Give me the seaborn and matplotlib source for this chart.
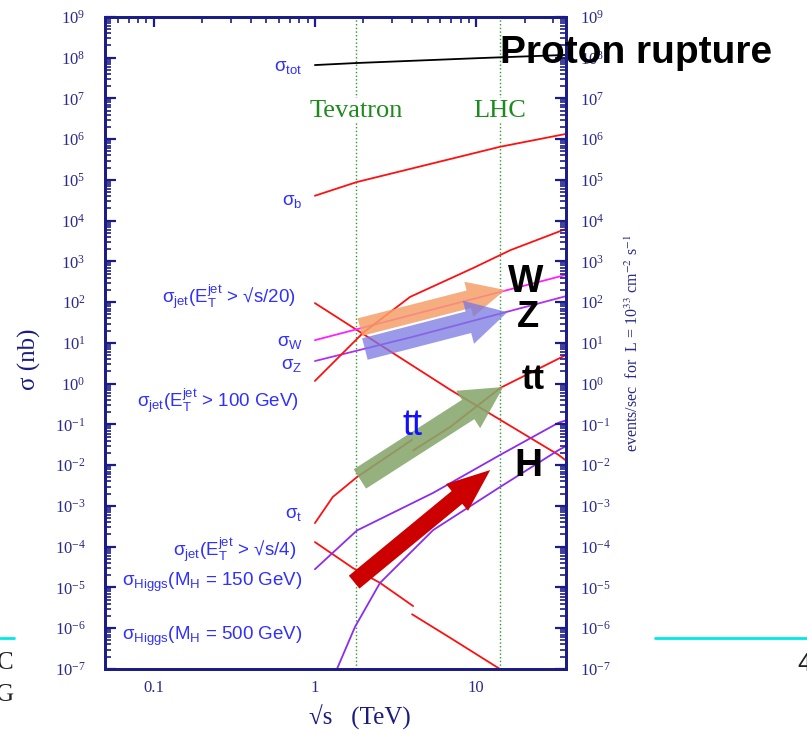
import numpy as np
import pandas as pd
import matplotlib
matplotlib.use("Agg")
import matplotlib.pyplot as plt
import seaborn as sns
from matplotlib.patches import FancyArrowPatch
from matplotlib.lines import Line2D
from matplotlib.ticker import LogLocator, NullFormatter, FixedLocator, FixedFormatter

sns.set_style("white")
plt.rcParams['font.family'] = ['Liberation Serif', 'DejaVu Serif']
plt.rcParams['axes.unicode_minus'] = False
plt.rcParams['mathtext.fontset'] = 'custom'
plt.rcParams['mathtext.rm'] = 'Liberation Sans'
plt.rcParams['mathtext.it'] = 'Liberation Sans:italic'
plt.rcParams['mathtext.bf'] = 'Liberation Sans:bold'

# sqrt(s) in TeV, sigma in nb
tot_x = [1, 1.8, 10.6, 36]
tot_y = [6.6e7, 7.4e7, 9.8e7, 1.17e8]
b_x = [1, 1.82, 14, 36]
b_y = [4.1e4, 8.9e4, 6.5e5, 1.35e6]
jet20_x = [1, 6.9, 32.3, 36]
jet20_y = [95, 0.71, 0.018, 0.013]
w_x = [1, 4, 36]
w_y = [11.7, 49, 470]
z_x = [1, 4, 36]
z_y = [3.6, 14, 141]
jet100_x = [1, 1.99, 3.89, 9.58, 16.3, 36]
jet100_y = [1.17, 17.8, 135, 692, 1900, 6300]
top_x = [1, 1.29, 1.82, 4.0]
top_y = [3.8e-4, 1.66e-3, 5.1e-3, 4.2e-2]
top2_x = [4.06, 6.9, 14.1, 32.3, 36]
top2_y = [0.023, 0.087, 0.79, 4.1, 5.1]
jet4_x = [1, 1.72, 2.53, 4.06]
jet4_y = [1.3e-4, 3.0e-5, 1.3e-5, 3.5e-6]
jet4b_x = [4.0, 6.9, 14]
jet4b_y = [2.2e-6, 5.8e-7, 1.0e-7]
h150_x = [1, 1.82, 5.41, 14.1, 32.3, 36]
h150_y = [2.8e-5, 2.5e-4, 2.1e-3, 1.8e-2, 0.11, 0.126]
h500_x = [1.37, 1.77, 2.53, 5.41, 14.1, 32.3, 36]
h500_y = [1e-7, 1.07e-6, 1.29e-5, 2.57e-4, 2.95e-3, 2.34e-2, 2.95e-2]

curves = [
    ("tot", tot_x, tot_y, "black"),
    ("b", b_x, b_y, "#ff1010"),
    ("jet20", jet20_x, jet20_y, "#ff1010"),
    ("W", w_x, w_y, "#ff20ff"),
    ("Z", z_x, z_y, "#b030f0"),
    ("jet100", jet100_x, jet100_y, "#ff1010"),
    ("top", top_x, top_y, "#ff1010"),
    ("top2", top2_x, top2_y, "#ff1010"),
    ("jet4", jet4_x, jet4_y, "#ff1010"),
    ("jet4b", jet4b_x, jet4b_y, "#ff1010"),
    ("h150", h150_x, h150_y, "#8c2cf0"),
    ("h500", h500_x, h500_y, "#8c2cf0"),
]
df = pd.concat([pd.DataFrame({"sqrt_s": x, "sigma": y, "curve": name})
                for name, x, y, c in curves], ignore_index=True)
palette = {name: c for name, x, y, c in curves}

navy = "#1c1c88"
fig = plt.figure(figsize=(8.07, 7.34), dpi=100)
ax = fig.add_axes([0.1301, 0.0886, 0.5713, 0.8883])

sns.lineplot(data=df, x="sqrt_s", y="sigma", hue="curve", palette=palette,
             estimator=None, sort=False, legend=False, linewidth=1.3, ax=ax)
ax.set_xscale("log")
ax.set_yscale("log")
ax.set_xlim(0.05, 36)
ax.set_ylim(1e-7, 1e9)

# Tevatron / LHC energies
for xv, name in [(1.8, "Tevatron"), (14, "LHC")]:
    ax.axvline(xv, color="#2a9a2a", ls=":", lw=1.0, zorder=1)
    ax.text(xv, 10**6.7, name, color="#1e8a1e", fontsize=19, ha="center", va="center",
            bbox=dict(facecolor="white", edgecolor="none", pad=1), zorder=2)

# curve labels: text, right edge (TeV), height (nb)
labels = [
    (r"σ$_{\mathrm{tot}}$", 0.84, 10**7.75),
    (r"σ$_{\mathrm{b}}$", 0.84, 10**4.46),
    (r"σ$_{\mathrm{jet}}$(E$_{\mathrm{T}}^{\mathrm{jet}}$ > √s/20)", 0.76, 10**2.13),
    (r"σ$_{\mathrm{W}}$", 0.84, 10**1.02),
    (r"σ$_{\mathrm{Z}}$", 0.84, 10**0.44),
    (r"σ$_{\mathrm{jet}}$(E$_{\mathrm{T}}^{\mathrm{jet}}$ > 100 GeV)", 0.80, 10**-0.42),
    (r"σ$_{\mathrm{t}}$", 0.84, 10**-3.2),
    (r"σ$_{\mathrm{jet}}$(E$_{\mathrm{T}}^{\mathrm{jet}}$ > √s/4)", 0.77, 10**-4.08),
    (r"σ$_{\mathrm{Higgs}}$(M$_{\mathrm{H}}$ = 150 GeV)", 0.84, 10**-4.87),
    (r"σ$_{\mathrm{Higgs}}$(M$_{\mathrm{H}}$ = 500 GeV)", 0.84, 10**-6.21),
]
for txt, xv, yv in labels:
    ax.text(xv, yv, txt, color="#3030ff", fontsize=13.5, ha="right", va="center",
            family=["Liberation Sans", "DejaVu Sans"])

# arrows: tail, tip, colour, alpha, tail width, head width, head length (pt)
arrows = [
    ((1.90, 24.5), (15.1, 200), "#f5a06a", 0.85, 13, 26, 27),
    ((2.04, 7.1), (15.6, 57), "#7878e2", 0.75, 16, 32, 29),
    ((1.90, 4.6e-3), (14.7, 0.83), "#86a66c", 0.88, 16.5, 32, 30),
    ((1.75, 1.35e-5), (12.2, 7.6e-3), "#cc0000", 1.0, 12, 25, 31),
]
for tail, tip, col, al, tw, hw, hl in arrows:
    ax.add_patch(FancyArrowPatch(
        tail, tip, arrowstyle=f"simple,head_length={hl},head_width={hw},tail_width={tw}",
        mutation_scale=1, color=col, alpha=al, lw=0, shrinkA=0, shrinkB=0, zorder=5))

bold = dict(family=["Liberation Sans", "DejaVu Sans"], fontweight="bold", color="black",
            ha="center", va="center", zorder=6)
ax.text(20.2, 10**2.50, "W", fontsize=27, **bold)
ax.text(21.0, 10**1.62, "Z", fontsize=26, **bold)
ax.text(22.6, 10**0.10, "tt", fontsize=25, **bold)
ax.text(21.0, 10**-2.02, "H", fontsize=28, **bold)
ax.text(4.04, 10**-1.03, "tt", fontsize=26, color="#1010ff", ha="center", va="center",
        family=["Liberation Sans", "DejaVu Sans"], zorder=6)

# axes styling
ax.xaxis.set_major_locator(FixedLocator([0.1, 1, 10]))
ax.xaxis.set_major_formatter(FixedFormatter(["0.1", "1", "10"]))
ax.xaxis.set_minor_locator(LogLocator(base=10, subs=np.arange(2, 10), numticks=20))
ax.xaxis.set_minor_formatter(NullFormatter())
ax.yaxis.set_major_locator(LogLocator(base=10, numticks=20))
ax.yaxis.set_minor_locator(LogLocator(base=10, subs=np.arange(2, 10), numticks=20))
ax.yaxis.set_minor_formatter(NullFormatter())

ax2 = ax.twinx()
ax2.set_yscale("log")
ax2.set_ylim(1e-7, 1e9)
ax2.yaxis.set_major_locator(LogLocator(base=10, numticks=20))
ax2.yaxis.set_minor_locator(LogLocator(base=10, subs=np.arange(2, 10), numticks=20))
ax2.yaxis.set_minor_formatter(NullFormatter())

ax.tick_params(axis="both", which="both", direction="in", color=navy, labelcolor="#2a2a8a",
               top=True, right=False, labelsize=12)
ax.tick_params(axis="y", which="major", length=8, width=1.6, pad=14)
ax.tick_params(axis="y", which="minor", length=4.5, width=1.2)
ax.tick_params(axis="x", which="major", length=7, width=1.6, pad=8)
ax.tick_params(axis="x", which="minor", length=4, width=1.2)
ax2.tick_params(axis="y", which="both", direction="in", color=navy, labelcolor="#2a2a8a",
                labelsize=12)
ax2.tick_params(axis="y", which="major", length=8, width=1.6, pad=10)
ax2.tick_params(axis="y", which="minor", length=4.5, width=1.2)
for a in (ax, ax2):
    for s in a.spines.values():
        s.set_color(navy)
        s.set_linewidth(2.0)

ax.set_xlabel("√s   (TeV)", fontsize=18, color="#1c1c80", va="center")
ax.xaxis.set_label_coords(0.553, -0.074)
ax.set_ylabel("σ (nb)", fontsize=18, color="#1c1c80", va="center")
ax.yaxis.set_label_coords(-0.163, 0.475)
ax2.set_ylabel(r"events/sec  for  L = 10$^{33}$ cm$^{-2}$ s$^{-1}$", fontsize=11.5,
               color="#2a2a8a", va="center", math_fontfamily="stix")
ax2.yaxis.set_label_coords(1.145, 0.5)

fig.text(500 / 807, 1 - 63 / 734, "Proton rupture", fontsize=28, fontweight="bold",
         color="black", family=["Liberation Sans", "DejaVu Sans"], ha="left",
         va="baseline", zorder=10)

# slide leftovers around the chart
fig.add_artist(Line2D([0, 14 / 807], [1 - 638 / 734] * 2, color="#00e8e8", lw=2))
fig.add_artist(Line2D([655 / 807, 1], [1 - 638 / 734] * 2, color="#00e8e8", lw=2))
fig.text(14 / 807, 1 - 663 / 734, "C", fontsize=18, color="#202020", ha="right", va="center")
fig.text(14 / 807, 1 - 695 / 734, "G", fontsize=18, color="#202020", ha="right", va="center")
fig.text(797 / 807, 1 - 664 / 734, "4", fontsize=18, color="#202020", ha="left", va="center",
         family=["Liberation Sans", "DejaVu Sans"])

fig.savefig("out.png", dpi=100)
